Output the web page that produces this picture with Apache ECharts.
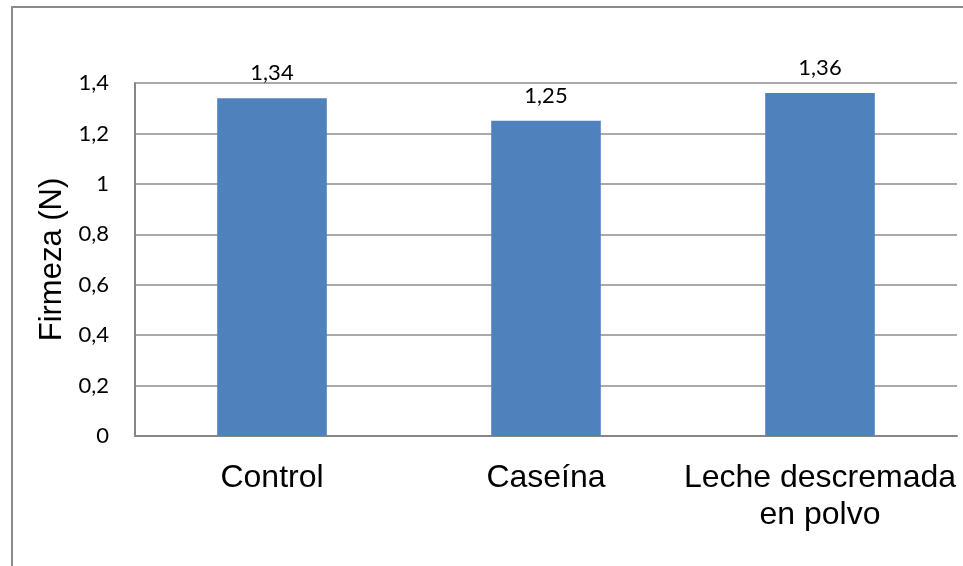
<!DOCTYPE html>
<html>
<head>
<meta charset="utf-8">
<script src="https://cdn.jsdelivr.net/npm/echarts@6/dist/echarts.min.js"></script>
<style>
  html, body { margin: 0; padding: 0; background: #fff; }
  #chart { width: 963px; height: 566px; }
</style>
</head>
<body>
<div id="chart"></div>
<script>
// Firmness by formulation
const categories = ['Control', 'Caseína', 'Leche descremada\nen polvo'];
const firmeza = [1.34, 1.25, 1.36];
const yTicks = { min: 0, max: 1.4, interval: 0.2 };

const comma = v => String(Math.round(v * 100) / 100).replace('.', ',');

const chart = echarts.init(document.getElementById('chart'));
chart.setOption({
  backgroundColor: '#ffffff',
  animation: false,
  graphic: [{
    type: 'rect',
    shape: { x: 12, y: 7, width: 1000, height: 600 },
    style: { fill: 'none', stroke: '#8a8a8a', lineWidth: 2 },
    silent: true
  }],
  grid: { left: 135, right: 6, top: 83, bottom: 130 },
  xAxis: {
    type: 'category',
    data: categories,
    axisLine: { show: true, lineStyle: { color: '#868686', width: 2 } },
    axisTick: { show: false },
    axisLabel: {
      color: '#000',
      fontFamily: 'Liberation Sans, Arial, sans-serif',
      fontSize: 32,
      lineHeight: 37,
      margin: 24,
      interval: 0
    }
  },
  yAxis: {
    type: 'value',
    min: yTicks.min,
    max: yTicks.max,
    interval: yTicks.interval,
    name: 'Firmeza (N)',
    nameLocation: 'middle',
    nameGap: 66,
    nameTextStyle: {
      color: '#000',
      fontFamily: 'Liberation Sans, Arial, sans-serif',
      fontSize: 31
    },
    axisLine: { show: true, lineStyle: { color: '#868686', width: 2 } },
    axisTick: { show: false },
    splitLine: { show: true, lineStyle: { color: '#8c8c8c', width: 1.5 } },
    axisLabel: {
      color: '#000',
      fontFamily: 'Lato, Open Sans, sans-serif',
      fontSize: 22,
      margin: 26,
      formatter: v => comma(v)
    }
  },
  series: [{
    type: 'bar',
    data: firmeza,
    barWidth: '40%',
    itemStyle: { color: '#4f81bd' },
    label: {
      show: true,
      position: 'top',
      distance: 14,
      color: '#000',
      fontFamily: 'Lato, Open Sans, sans-serif',
      fontSize: 22,
      formatter: p => comma(p.value)
    }
  }]
});
</script>
</body>
</html>
